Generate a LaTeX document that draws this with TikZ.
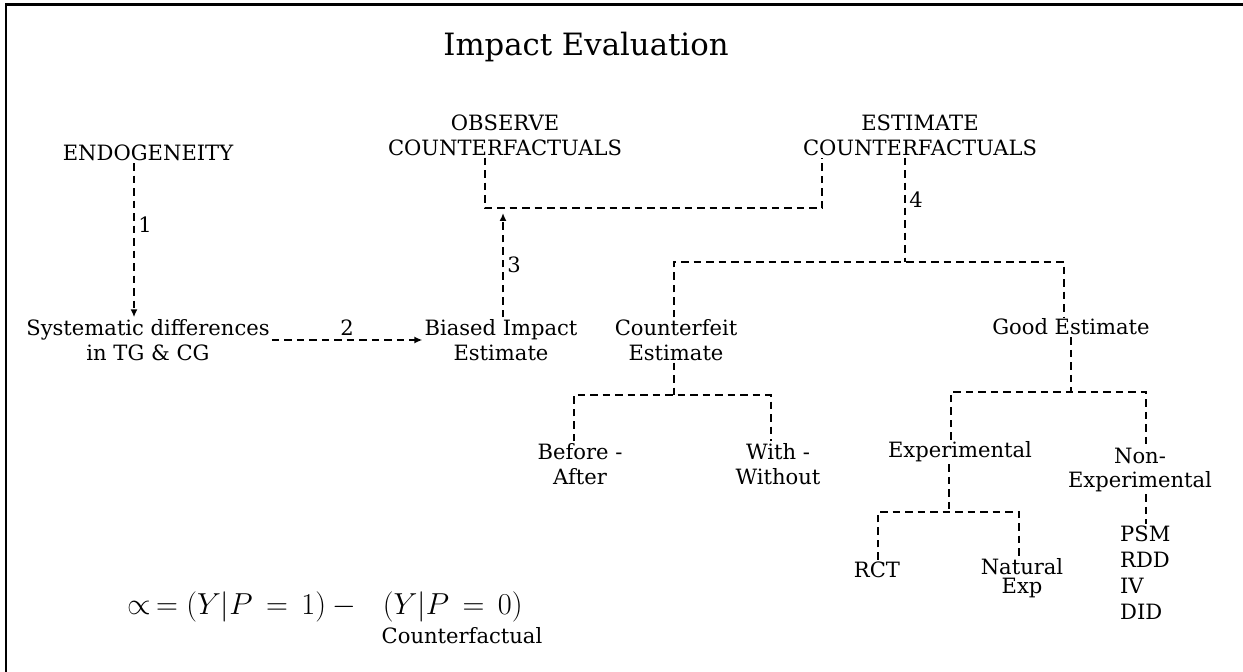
\documentclass[tikz,border=0pt]{standalone}
\usepackage{amsmath,amssymb}
\usepackage{fontspec}
\setmainfont{DejaVu Serif}
\usepackage{xcolor}
\usetikzlibrary{positioning,arrows.meta,calc}
\tikzset{
    lbl/.style={align=center,inner sep=1pt,font=\fontsize{12}{14.2}\selectfont},
    dline/.style={dash pattern=on 1.5mm off 1mm,line width=1pt},
    arr/.style={dline,-{Latex[length=1.6mm,width=1.4mm]}},
    num/.style={font=\fontsize{12}{14}\selectfont,inner sep=2pt},
}

\begin{document}
\begin{tikzpicture}[x=0.02cm,y=-0.02cm]
\useasboundingbox (0,0) rectangle (1243,672);
% frame
\draw[line width=0.6mm] (6,672) -- (6,5) -- (1243,5);

% heading
\node[font=\fontsize{17.5}{20}\selectfont] (title) at (586,47) {Impact Evaluation};

% top row
\node[lbl] (obs)  at (505,135) {OBSERVE\\COUNTERFACTUALS};
\node[lbl] (est)  at (920,135) {ESTIMATE\\COUNTERFACTUALS};
\node[lbl] (endo) at (148,153) {ENDOGENEITY};

% middle row
\node[lbl] (sys)  at (148,340) {Systematic differences\\in TG \& CG};
\node[lbl] (bias) at (501,340) {Biased Impact\\Estimate};
\node[lbl] (cfe)  at (676,340) {Counterfeit\\Estimate};
\node[lbl] (good) at (1071,327) {Good Estimate};

% lower rows
\node[lbl] (ba)     at (580,464) {Before -\\After};
\node[lbl] (ww)     at (778,464) {With -\\Without};
\node[lbl] (exp)    at (960,452) {Experimental};
\node[lbl] (nonexp) at (1140,470) {Non-\\Experimental};
\node[lbl] (rct)    at (877,570) {RCT};
\node[lbl,font=\fontsize{12}{10.5}\selectfont] (nat) at (1022,578) {Natural\\Exp};
\node[lbl,align=left,anchor=north west,font=\fontsize{12}{14.7}\selectfont] (meth) at (1118,524) {PSM\\RDD\\IV\\DID};

% formula
\node[font=\fontsize{17.5}{20}\selectfont] (formula) at (325,607) {$\propto\, = (Y|P\, =\, 1) -\ \ (Y|P\, =\, 0)$};
\node[lbl] (cfl) at (462,636) {Counterfactual};

% junction points
\coordinate (j1) at (134,0);
\coordinate (j3) at (503,213);
\coordinate (ob) at (485,208);
\coordinate (eb) at (822,208);
\coordinate (e4) at (905,262);
\coordinate (t1) at (674,262);
\coordinate (t2) at (1064,262);
\coordinate (c0) at (674,395);
\coordinate (c1) at (574,395);
\coordinate (c2) at (771,395);
\coordinate (g0) at (1071,392);
\coordinate (g1) at (951,392);
\coordinate (g2) at (1146,392);
\coordinate (x0) at (949,512);
\coordinate (x1) at (878,512);
\coordinate (x2) at (1019,512);

% numbered links
\draw[arr] (endo.south -| j1) -- node[num,right,pos=0.4] {1} (sys.north -| j1);
\draw[arr] (sys.east) -- node[num,above] {2} (bias.west);
\draw[arr] (bias.north -| j3) -- node[num,right] {3} (j3);
\draw[dline] (obs.south -| ob) -- (ob) -- (eb) -- (est.south -| eb);
\draw[dline] (est.south -| e4) -- node[num,right,pos=0.4] {4} (e4);

% estimate tree
\draw[dline] (cfe.north -| t1) -- (t1) -- (t2) -- (good.north -| t2);
\draw[dline] (cfe.south -| c0) -- (c0);
\draw[dline] (ba.north -| c1) -- (c1) -- (c2) -- (ww.north -| c2);
\draw[dline] (good.south -| g0) -- (g0);
\draw[dline] (exp.north -| g1) -- (g1) -- (g2) -- (nonexp.north -| g2);
\draw[dline] (exp.south -| x0) -- (x0);
\draw[dline] (rct.north -| x1) -- (x1) -- (x2) -- (nat.north -| x2);
\draw[dline] (nonexp.south -| g2) -- (meth.north -| g2);
\end{tikzpicture}
\end{document}
